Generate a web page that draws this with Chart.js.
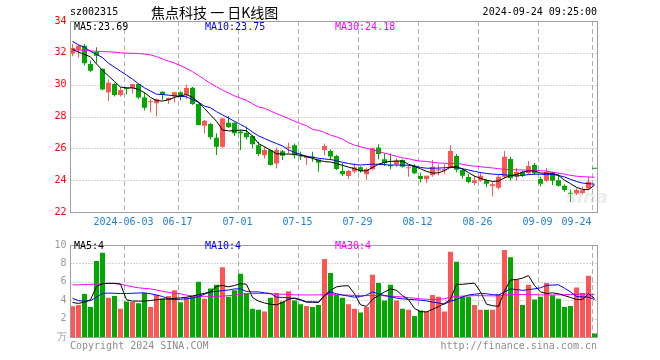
<!DOCTYPE html>
<html><head><meta charset="utf-8">
<script src="https://cdn.jsdelivr.net/npm/chart.js@4.4.1/dist/chart.umd.min.js"></script>
<style>
html,body{margin:0;padding:0;background:#fff;width:660px;height:360px;overflow:hidden;}
#wrap{position:relative;width:660px;height:360px;background:#fff;}
canvas{position:absolute;left:0;}
.t{position:absolute;font-family:"DejaVu Sans Mono",monospace;font-size:10px;line-height:12px;white-space:pre;color:#000;}
</style></head><body>
<div id="wrap">
<canvas id="k" width="660" height="235" style="top:0px"></canvas>
<canvas id="v" width="660" height="110" style="top:236px"></canvas>
<div class="t" style="left:70px;top:6px;">sz002315</div>
<div class="t" style="left:151px;top:4px;font-family:'Noto Sans CJK SC',sans-serif;font-size:14px;line-height:16px;">焦点科技 一 日K线图</div>
<div class="t" style="right:63px;top:6px;">2024-09-24 09:25:00</div>
<div class="t" id="lg5" style="left:74px;top:21px;color:#000;"></div>
<div class="t" id="lg10" style="left:205px;top:21px;color:#0000ff;"></div>
<div class="t" id="lg30" style="left:335px;top:21px;color:#ff00ff;"></div>
<div class="t" id="vg5" style="left:74px;top:240px;color:#000;"></div>
<div class="t" id="vg10" style="left:205px;top:240px;color:#0000ff;"></div>
<div class="t" id="vg30" style="left:335px;top:240px;color:#ff00ff;"></div>
<div class="t" style="left:70px;top:340px;color:#8c8c8c;">Copyright 2024 SINA.COM</div>
<div class="t" style="right:63px;top:340px;color:#8c8c8c;">http://finance.sina.com.cn</div>
<div class="t" style="left:566px;top:187px;font-family:'DejaVu Sans',sans-serif;font-style:italic;font-weight:bold;font-size:18px;line-height:20px;color:rgba(200,200,200,0.35);">sina</div>
</div>
<script>
const dates = ['05-21','05-22','05-23','05-24','05-27','05-28','05-29','05-30','05-31',
'06-03','06-04','06-05','06-06','06-07','06-11','06-12','06-13','06-14','06-17','06-18','06-19','06-20','06-21','06-24','06-25','06-26','06-27','06-28',
'07-01','07-02','07-03','07-04','07-05','07-08','07-09','07-10','07-11','07-12','07-15','07-16','07-17','07-18','07-19','07-22','07-23','07-24','07-25','07-26','07-29','07-30','07-31',
'08-01','08-02','08-05','08-06','08-07','08-08','08-09','08-12','08-13','08-14','08-15','08-16','08-19','08-20','08-21','08-22','08-23','08-26','08-27','08-28','08-29','08-30',
'09-02','09-03','09-04','09-05','09-06','09-09','09-10','09-11','09-12','09-13','09-18','09-19','09-20','09-23','09-24'].map(d => '2024-' + d);

const xTicks = ['2024-06-03','2024-06-17','2024-07-01','2024-07-15','2024-07-29','2024-08-12','2024-08-26','2024-09-09','2024-09-24'];
const priceTicks = {min:22, max:34, step:2};
const volTicks = {min:0, max:10, step:2};

const opens  = [31.94,32.2,32.45,31.3,32.05,31.0,29.52,30.04,29.35,29.78,29.77,30.04,29.2,28.9,28.83,29.56,29.02,29.25,29.53,29.37,29.8,28.78,27.42,27.53,26.67,26.1,27.6,27.6,27.05,26.98,26.77,26.2,25.57,25.89,25.05,25.82,26.03,26.2,25.52,25.4,25.47,25.3,25.89,25.83,25.52,24.58,24.26,24.54,24.81,24.37,24.68,26.06,25.31,24.92,25.0,25.27,24.75,24.91,24.26,24.08,24.33,24.6,24.6,24.8,25.52,24.64,24.2,23.82,23.97,24.0,23.63,23.53,24.22,25.33,24.22,24.53,24.43,24.95,24.07,23.97,24.47,24.0,23.65,23.2,23.17,23.2,23.48,24.75];
const closes = [32.3,32.45,31.35,30.87,31.82,29.7,30.12,29.35,29.66,29.72,30.04,29.2,28.55,28.95,29.08,29.35,29.16,29.53,29.22,29.79,28.78,27.46,27.73,26.7,26.1,27.88,27.32,26.95,26.95,26.7,26.25,25.64,25.89,24.95,25.89,25.53,26.1,25.57,25.48,25.47,25.42,25.09,26.14,25.48,24.7,24.37,24.58,24.81,24.55,24.7,26.0,25.64,25.06,24.87,25.23,24.85,24.8,24.43,24.08,24.28,24.85,24.68,24.7,25.83,24.65,24.27,23.88,24.0,24.28,23.77,23.74,24.22,25.47,24.12,24.53,24.3,24.89,24.43,23.77,24.53,23.97,23.65,23.38,23.15,23.38,23.42,23.9,24.72];
const highs  = [32.55,32.5,32.55,31.5,32.35,31.02,30.33,30.12,29.83,29.85,30.05,30.08,29.5,29.08,29.14,29.58,29.2,29.55,29.58,30.0,29.87,28.82,27.78,27.6,26.94,27.92,28.03,27.67,27.15,27.36,26.84,26.42,26.1,25.93,26.03,25.9,26.35,26.3,25.78,25.57,25.78,25.32,26.3,25.94,25.58,25.06,24.64,25.06,24.87,24.79,26.06,26.25,25.69,25.69,25.37,25.31,24.9,25.0,24.47,24.3,25.27,25.0,25.0,26.2,25.65,24.72,24.4,24.3,24.5,24.05,23.9,24.32,25.83,25.47,24.78,24.6,25.2,25.1,24.22,24.78,24.53,24.43,23.74,23.42,23.5,23.6,24.22,24.75];
const lows   = [31.78,31.7,31.2,30.8,31.35,29.65,28.97,29.25,29.25,29.4,29.45,29.1,28.38,28.25,28.0,29.05,28.8,28.9,29.02,29.1,28.72,27.43,26.94,26.55,25.58,26.0,27.3,26.77,25.9,26.55,26.0,25.52,25.36,24.9,24.74,25.26,25.68,25.36,25.26,24.95,25.15,24.53,25.57,25.27,24.64,24.26,24.05,24.43,24.47,24.01,24.6,25.31,24.89,24.68,24.85,24.8,24.22,24.37,23.85,23.8,24.22,24.3,24.4,24.75,24.5,24.1,23.8,23.7,23.9,23.55,22.97,23.42,24.1,23.97,23.97,24.2,24.38,24.32,23.6,23.9,23.7,23.58,23.28,22.65,23.07,23.1,23.38,24.72];

const ma5  = [32.2,32.05,31.9,31.75,31.3,30.9,30.55,30.2,29.85,29.8,29.8,29.7,29.5,29.2,29.0,28.97,29.05,29.2,29.3,29.38,29.2,28.9,28.5,28.1,27.7,27.15,27.1,27.1,27.15,27.1,26.78,26.3,26.1,25.88,25.66,25.64,25.64,25.62,25.56,25.48,25.37,25.25,25.17,25.14,25.05,24.93,24.82,24.72,24.6,24.58,24.8,25.0,25.12,25.18,25.2,25.2,25.0,24.88,24.72,24.55,24.45,24.46,24.6,24.82,24.85,24.7,24.48,24.25,24.12,24.0,23.92,23.95,24.15,24.28,24.35,24.5,24.58,24.58,24.45,24.43,24.43,24.3,24.0,23.78,23.55,23.42,23.4,23.69];
const ma10 = [32.72,32.5,32.35,32.1,31.9,31.7,31.35,31.1,30.85,30.6,30.35,30.05,29.8,29.6,29.4,29.38,29.34,29.3,29.27,29.24,29.05,28.9,28.65,28.55,28.3,28.1,27.9,27.7,27.5,27.3,27.02,26.78,26.62,26.45,26.3,26.15,25.9,25.75,25.62,25.5,25.43,25.38,25.33,25.3,25.22,25.12,25.05,24.98,24.95,24.98,25.01,25.0,24.97,24.95,24.95,24.95,24.93,24.88,24.8,24.75,24.75,24.76,24.78,24.8,24.78,24.72,24.64,24.55,24.48,24.42,24.38,24.36,24.34,24.3,24.26,24.3,24.35,24.38,24.37,24.36,24.36,24.3,24.2,24.05,23.92,23.82,23.78,23.75];
const ma30 = [32.2,32.18,32.15,32.12,32.1,32.08,32.07,32.04,32.0,31.98,31.97,31.96,31.92,31.87,31.76,31.62,31.48,31.36,31.2,31.02,30.82,30.58,30.33,30.08,29.87,29.65,29.48,29.3,29.15,29.02,28.8,28.6,28.52,28.35,28.18,28.03,27.87,27.7,27.55,27.42,27.2,27.12,27.0,26.83,26.72,26.58,26.35,26.2,26.1,26.0,25.92,25.8,25.7,25.6,25.5,25.4,25.35,25.25,25.2,25.18,25.12,25.08,25.06,25.05,25.05,25.0,24.92,24.88,24.85,24.8,24.77,24.72,24.68,24.66,24.65,24.64,24.62,24.61,24.6,24.57,24.5,24.44,24.38,24.3,24.25,24.22,24.2,24.18];

const volumes = [3.33,3.47,4.67,3.27,8.27,9.17,4.27,4.47,3.07,3.87,3.8,3.67,4.77,3.27,4.57,4.17,4.47,5.07,3.77,4.33,4.43,6.0,4.17,5.27,5.67,7.57,4.37,5.07,6.87,4.73,3.07,2.97,2.77,4.27,4.77,3.87,4.97,3.97,3.57,3.37,3.27,3.47,8.47,6.97,4.57,4.27,3.57,3.07,2.67,3.27,6.77,5.87,3.97,5.67,3.97,3.07,2.97,2.27,2.87,2.77,4.57,4.37,2.77,9.27,8.17,4.37,4.37,3.47,2.97,2.97,2.97,4.67,9.47,8.67,6.23,3.47,5.67,4.07,4.37,5.87,4.53,4.17,3.27,3.37,5.37,4.77,6.67,0.37];
const vma5  = [3.75,3.65,3.8,4.05,5.5,5.8,5.83,5.83,5.75,4.05,3.9,3.9,3.9,3.97,4.05,4.13,4.13,4.2,4.25,4.33,4.45,4.6,4.75,4.9,5.5,5.6,5.45,5.6,5.8,5.73,4.3,3.9,3.7,3.55,3.5,3.75,4.1,4.23,4.07,3.8,3.8,3.75,4.5,5.1,5.45,5.55,5.57,4.7,3.5,3.33,4.1,4.5,4.9,5.23,5.07,4.5,4.05,3.1,2.75,2.73,3.0,3.3,3.65,4.1,5.73,5.73,5.8,5.85,4.9,3.57,3.4,3.33,5.0,6.2,6.25,6.4,6.67,5.6,4.9,4.73,4.8,4.7,4.5,4.3,4.07,4.07,4.7,4.2];
const vma10 = [4.2,3.95,3.9,3.95,4.35,4.75,4.77,4.75,4.73,4.73,4.75,4.78,4.8,4.7,4.57,4.4,4.15,4.07,4.1,4.15,4.23,4.4,4.65,4.9,4.95,5.05,5.1,5.23,5.23,4.95,4.9,4.9,4.8,4.73,4.33,4.3,4.25,4.2,4.0,3.8,3.8,3.8,4.5,4.9,4.7,4.55,4.45,4.33,4.4,4.55,4.9,4.7,4.5,4.4,4.23,4.15,4.1,4.05,4.0,3.92,3.8,3.7,3.57,3.9,4.07,4.35,4.57,4.65,4.73,4.7,4.6,4.57,4.9,5.23,5.15,5.07,5.15,5.23,5.35,5.6,5.65,5.67,5.3,4.9,4.4,4.35,4.33,4.07];
const vma30 = [5.67,5.68,5.7,5.72,5.75,5.8,5.83,5.8,5.75,5.6,5.45,5.35,5.28,5.23,5.1,4.97,4.85,4.75,4.7,4.55,4.45,4.42,4.42,4.42,4.42,4.45,4.5,4.55,4.65,4.72,4.73,4.72,4.72,4.7,4.68,4.65,4.62,4.58,4.57,4.57,4.57,4.58,4.6,4.62,4.6,4.58,4.55,4.52,4.5,4.5,4.5,4.5,4.48,4.45,4.4,4.35,4.28,4.22,4.15,4.1,4.07,4.1,4.15,4.35,4.42,4.45,4.47,4.5,4.5,4.48,4.47,4.47,4.55,4.6,4.63,4.62,4.6,4.6,4.58,4.57,4.57,4.58,4.6,4.62,4.65,4.67,4.67,4.6];

const UP = '#ff5555', DOWN = '#00a800';
const FONT = "'DejaVu Sans Mono', monospace";
const candleColors = opens.map((o, i) => closes[i] >= o ? UP : DOWN);

const last = a => a[a.length - 1];
document.getElementById('lg5').textContent = 'MA5:' + last(ma5).toFixed(2);
document.getElementById('lg10').textContent = 'MA10:' + last(ma10).toFixed(2);
document.getElementById('lg30').textContent = 'MA30:' + last(ma30).toFixed(2);
document.getElementById('vg5').textContent = 'MA5:' + Math.floor(last(vma5));
document.getElementById('vg10').textContent = 'MA10:' + Math.floor(last(vma10));
document.getElementById('vg30').textContent = 'MA30:' + Math.floor(last(vma30));

function xLabel(i) {
  const k = xTicks.indexOf(dates[i]);
  if (k < 0) return '';
  const s = k === 0 ? dates[i] : dates[i].slice(5);
  return k === xTicks.length - 1 ? s + '     ' : s;
}

const gridPlugin = {
  id: 'sinaGrid',
  beforeDatasetsDraw(chart) {
    const {ctx, chartArea: a, scales: {x, y}} = chart;
    ctx.save();
    ctx.lineWidth = 1;
    ctx.strokeStyle = '#a8a8a8';
    ctx.setLineDash([1, 2]);
    y.ticks.forEach(t => {
      if (t.value <= y.min || t.value >= y.max) return;
      const py = Math.round(y.getPixelForValue(t.value)) + 0.5;
      ctx.beginPath(); ctx.moveTo(a.left + 1, py); ctx.lineTo(a.right, py); ctx.stroke();
    });
    ctx.strokeStyle = '#b0b0b0';
    ctx.setLineDash([5, 3]);
    const half = (x.getPixelForValue(1) - x.getPixelForValue(0)) / 2;
    xTicks.forEach(d => {
      const i = dates.indexOf(d);
      const px = Math.round(x.getPixelForValue(i) - half) + 0.5;
      ctx.beginPath(); ctx.moveTo(px, a.top); ctx.lineTo(px, a.bottom); ctx.stroke();
    });
    ctx.restore();
  },
  afterDraw(chart) {
    const {ctx, chartArea: a} = chart;
    ctx.save();
    ctx.strokeStyle = '#a0a0a0';
    ctx.lineWidth = 1;
    ctx.setLineDash([]);
    const l = Math.round(a.left) + 0.5, r = Math.floor(a.right) - 0.5 + 1;
    const t = Math.round(a.top) + 0.5, b = Math.round(a.bottom) + 0.5;
    ctx.strokeRect(l, t, r - l, b - t);
    ctx.restore();
  }
};

const lineDs = (data, color) => ({type: 'line', data, borderColor: color, borderWidth: 1, pointRadius: 0, tension: 0, fill: false, order: 0});

new Chart(document.getElementById('k'), {
  type: 'bar',
  data: {
    labels: dates,
    datasets: [
      {type: 'bar', data: lows.map((l, i) => [l, highs[i]]), backgroundColor: candleColors, barThickness: 1, grouped: false, inflateAmount: 0, borderWidth: 0, order: 2},
      {type: 'bar', data: opens.map((o, i) => [o, closes[i]]), backgroundColor: candleColors, barThickness: 5, minBarLength: 1, grouped: false, inflateAmount: 0, borderWidth: 0, order: 1},
      lineDs(ma5, '#000000'),
      lineDs(ma10, '#0000ff'),
      lineDs(ma30, '#ff00ff')
    ]
  },
  options: {
    responsive: false, animation: false, devicePixelRatio: 1,
    layout: {padding: {left: 0, right: 62.5, top: 21, bottom: 0}},
    plugins: {legend: {display: false}, tooltip: {enabled: false}},
    scales: {
      x: {
        type: 'category', offset: true,
        grid: {display: false, drawTicks: false}, border: {display: false},
        ticks: {autoSkip: false, maxRotation: 0, minRotation: 0, padding: 4, labelOffset: -3, color: '#1f7fd6', font: {family: FONT, size: 10}, callback: (v, i) => xLabel(i)},
        afterFit: s => { s.height = 23; }
      },
      y: {
        min: priceTicks.min, max: priceTicks.max,
        grid: {display: false, drawTicks: false}, border: {display: false},
        ticks: {stepSize: priceTicks.step, padding: 3, color: '#ff0000', font: {family: FONT, size: 10}},
        afterFit: s => { s.width = 69.5; }
      }
    }
  },
  plugins: [gridPlugin]
});

new Chart(document.getElementById('v'), {
  type: 'bar',
  data: {
    labels: dates,
    datasets: [
      {type: 'bar', data: volumes, backgroundColor: candleColors, barThickness: 5, grouped: false, inflateAmount: 0, borderWidth: 0, order: 1},
      lineDs(vma5, '#000000'),
      lineDs(vma10, '#0000ff'),
      lineDs(vma30, '#ff00ff')
    ]
  },
  options: {
    responsive: false, animation: false, devicePixelRatio: 1,
    layout: {padding: {left: 0, right: 62.5, top: 5, bottom: 5}},
    plugins: {legend: {display: false}, tooltip: {enabled: false}},
    scales: {
      x: {type: 'category', offset: true, display: false},
      y: {
        min: volTicks.min, max: volTicks.max,
        grid: {display: false, drawTicks: false}, border: {display: false},
        ticks: {stepSize: volTicks.step, padding: 3, color: '#999999', font: {family: FONT, size: 10}, callback: v => v === 0 ? '万' : v},
        afterFit: s => { s.width = 69.5; }
      }
    }
  },
  plugins: [gridPlugin]
});
</script>
</body></html>
